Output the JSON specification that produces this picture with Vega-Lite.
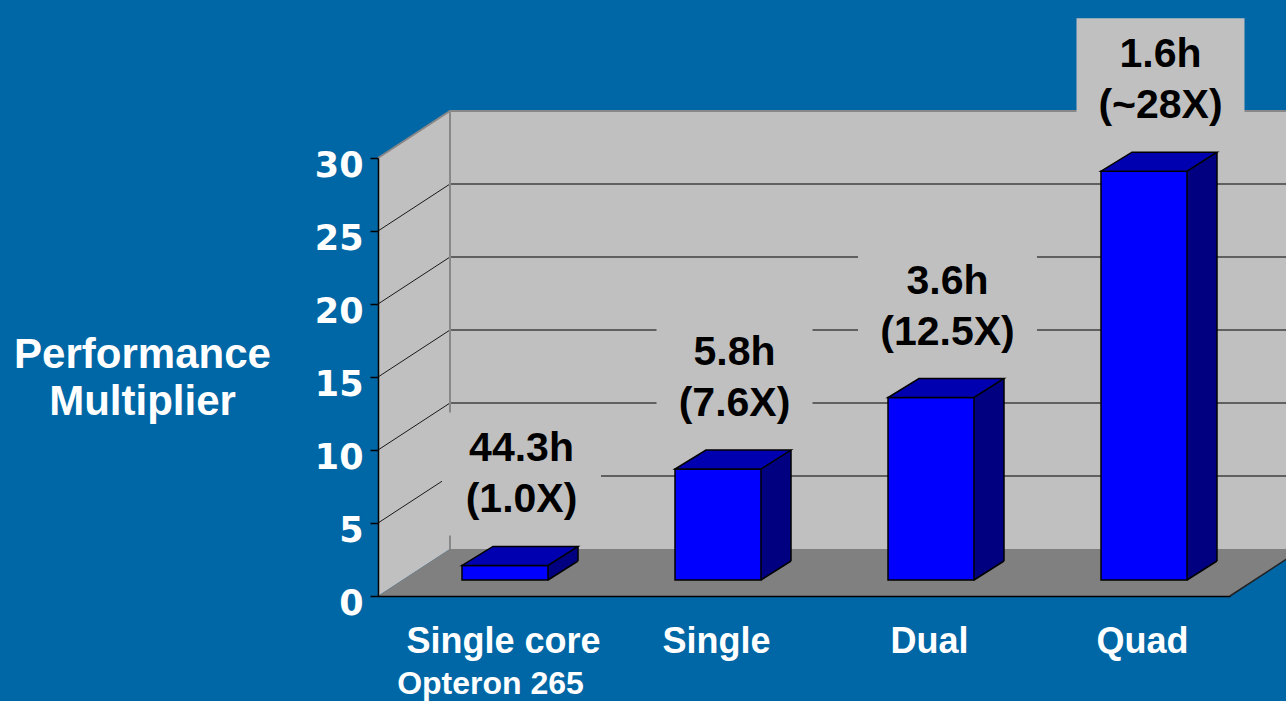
{
  "$schema": "https://vega.github.io/schema/vega-lite/v6.json",
  "width": 852,
  "height": 438,
  "padding": {"left": 378, "top": 158, "right": 56, "bottom": 105},
  "autosize": {"type": "none"},
  "background": "#0067A6",
  "config": {"view": {"stroke": null}},
  "datasets": {
    "bars": [
      {"category": "Single core", "multiplier": 1.0, "label": "44.3h\n(1.0X)"},
      {"category": "Single", "multiplier": 7.6, "label": "5.8h\n(7.6X)"},
      {"category": "Dual", "multiplier": 12.5, "label": "3.6h\n(12.5X)"},
      {"category": "Quad", "multiplier": 28, "label": "1.6h\n(~28X)"}
    ],
    "levels": [{"v": 5}, {"v": 10}, {"v": 15}, {"v": 20}, {"v": 25}],
    "frame": [{"part": "frame"}],
    "notes": [{"category": "Single core", "note": "Opteron 265"}]
  },
  "layer": [
    {
      "data": {"name": "bars"},
      "mark": {"type": "rect", "fill": "#C0C0C0", "xOffset": 72, "x2Offset": 72, "yOffset": -47, "y2Offset": -47},
      "encoding": {
        "x": {"field": "category", "type": "nominal", "scale": {"type": "band", "domain": ["Single core", "Single", "Dual", "Quad"], "paddingInner": 0, "paddingOuter": 0}},
        "y": {"datum": 0, "type": "quantitative", "scale": {"domain": [0, 30], "nice": false, "zero": true}},
        "y2": {"datum": 30}
      }
    },
    {
      "data": {"name": "frame"},
      "mark": {"type": "point", "shape": "M-106.5,0L-106.5,-438L-34.5,-485L-34.5,-47Z", "size": 4, "filled": true, "fill": "#C0C0C0", "opacity": 1},
      "encoding": {
        "x": {"datum": "Single core", "type": "nominal"},
        "y": {"datum": 0, "type": "quantitative"}
      }
    },
    {
      "data": {"name": "frame"},
      "mark": {"type": "point", "shape": "M-106.5,0L-34.5,-47L817.5,-47L745.5,0Z", "size": 4, "filled": true, "fill": "#808080", "opacity": 1},
      "encoding": {
        "x": {"datum": "Single core", "type": "nominal"},
        "y": {"datum": 0, "type": "quantitative"}
      }
    },
    {
      "data": {"name": "frame"},
      "mark": {"type": "point", "shape": "M745.5,0L817.5,-47", "size": 4, "filled": false, "stroke": "#222222", "strokeWidth": 1.5, "opacity": 1},
      "encoding": {
        "x": {"datum": "Single core", "type": "nominal"},
        "y": {"datum": 0, "type": "quantitative"}
      }
    },
    {
      "data": {"name": "levels"},
      "mark": {"type": "point", "shape": "M-34.5,-47L900,-47", "size": 4, "filled": false, "stroke": "#404040", "strokeWidth": 1.5, "opacity": 1},
      "encoding": {
        "x": {"datum": "Single core", "type": "nominal"},
        "y": {"field": "v", "type": "quantitative"}
      }
    },
    {
      "data": {"name": "levels"},
      "mark": {"type": "point", "shape": "M-106.5,0L-34.5,-47", "size": 4, "filled": false, "stroke": "#1a1a1a", "strokeWidth": 1, "opacity": 1},
      "encoding": {
        "x": {"datum": "Single core", "type": "nominal"},
        "y": {"field": "v", "type": "quantitative"}
      }
    },
    {
      "data": {"name": "frame"},
      "mark": {"type": "point", "shape": "M-106.5,-438L-34.5,-485L900,-485M-34.5,-485L-34.5,-47", "size": 4, "filled": false, "stroke": "#888888", "strokeWidth": 2, "opacity": 1},
      "encoding": {
        "x": {"datum": "Single core", "type": "nominal"},
        "y": {"datum": 0, "type": "quantitative"}
      }
    },
    {
      "data": {"name": "bars"},
      "mark": {"type": "point", "size": 4, "filled": true, "fill": "#C0C0C0", "opacity": 1, "xOffset": 37, "yOffset": -107},
      "encoding": {
        "x": {"field": "category", "type": "nominal"},
        "y": {"field": "multiplier", "type": "quantitative"},
        "shape": {
          "field": "category", "type": "nominal", "legend": null,
          "scale": {
            "domain": ["Single core", "Single", "Dual", "Quad"],
            "range": ["M-79.5,-62H79.5V61H-79.5Z", "M-78,-62H78V61H-78Z", "M-89.5,-62H89.5V61H-89.5Z", "M-84,-62H84V61H-84Z"]
          }
        }
      }
    },
    {
      "data": {"name": "bars"},
      "mark": {"type": "bar", "width": 30, "xOffset": 78.5, "yOffset": -35, "y2Offset": -16, "fill": "#000080"},
      "encoding": {
        "x": {"field": "category", "type": "nominal"},
        "y": {"field": "multiplier", "type": "quantitative"},
        "y2": {"datum": 0}
      }
    },
    {
      "data": {"name": "bars"},
      "mark": {"type": "point", "shape": "M63.5,-16L93.5,-35L93.5,-16Z", "size": 4, "filled": true, "fill": "#808080", "opacity": 1},
      "encoding": {
        "x": {"field": "category", "type": "nominal"},
        "y": {"datum": 0, "type": "quantitative"}
      }
    },
    {
      "data": {"name": "bars"},
      "mark": {"type": "point", "shape": "M63.5,-16L93.5,-35", "size": 4, "filled": false, "stroke": "#000000", "strokeWidth": 1.5, "opacity": 1},
      "encoding": {
        "x": {"field": "category", "type": "nominal"},
        "y": {"datum": 0, "type": "quantitative"}
      }
    },
    {
      "data": {"name": "bars"},
      "mark": {"type": "rule", "xOffset": 93.5, "yOffset": -35, "y2Offset": -35, "stroke": "#000000", "strokeWidth": 1.5},
      "encoding": {
        "x": {"field": "category", "type": "nominal"},
        "y": {"field": "multiplier", "type": "quantitative"},
        "y2": {"datum": 0}
      }
    },
    {
      "data": {"name": "bars"},
      "mark": {"type": "bar", "width": 86, "xOffset": 20.5, "yOffset": -16, "y2Offset": -16, "fill": "#0000FF", "stroke": "#000000", "strokeWidth": 1.5, "strokeJoin": "miter"},
      "encoding": {
        "x": {
          "field": "category", "type": "nominal",
          "axis": {
            "title": null, "domain": true, "domainColor": "#000000", "domainWidth": 1.5,
            "ticks": false, "tickSize": 0, "grid": false,
            "labelFont": "Liberation Sans", "labelFontWeight": "bold", "labelFontSize": 36,
            "labelColor": "#FFFFFF", "labelPadding": 28, "labelOffset": 19, "labelAngle": 0,
            "labelAlign": "center", "labelBaseline": "top",
            "labelLimit": 0, "labelOverlap": false, "labelFlush": false, "zindex": 1
          }
        },
        "y": {
          "field": "multiplier", "type": "quantitative",
          "axis": {
            "title": ["Performance", "Multiplier"], "titleAngle": 0, "titleX": -236, "titleY": 209,
            "titleAlign": "center", "titleBaseline": "alphabetic", "titleFont": "Liberation Sans",
            "titleFontWeight": "bold", "titleFontSize": 42, "titleColor": "#FFFFFF", "titleLineHeight": 47,
            "titleLimit": 1000,
            "values": [0, 5, 10, 15, 20, 25, 30],
            "domainColor": "#000000", "domainWidth": 1.5,
            "tickColor": "#000000", "tickSize": 8, "tickWidth": 1.5, "grid": false,
            "labelFont": "DejaVu Sans", "labelFontWeight": "bold", "labelFontSize": 35,
            "labelColor": "#FFFFFF", "labelPadding": 7, "labelOffset": 7, "labelLimit": 0,
            "labelAlign": "right", "labelBaseline": "middle",
            "labelOverlap": false, "labelFlush": false, "zindex": 1
          }
        },
        "y2": {"datum": 0}
      }
    },
    {
      "data": {"name": "bars"},
      "mark": {"type": "point", "shape": "M-22.5,-16L63.5,-16L93.5,-35L8.5,-35Z", "size": 4, "filled": true, "fill": "#0000B0", "stroke": "#000000", "strokeWidth": 1.5, "opacity": 1, "strokeJoin": "miter"},
      "encoding": {
        "x": {"field": "category", "type": "nominal"},
        "y": {"field": "multiplier", "type": "quantitative"}
      }
    },
    {
      "data": {"name": "bars"},
      "mark": {"type": "text", "lineBreak": "\n", "font": "Liberation Sans", "fontWeight": "bold", "fontSize": 41, "lineHeight": 51, "align": "center", "baseline": "middle", "color": "#000000", "xOffset": 37, "yOffset": -132},
      "encoding": {
        "x": {"field": "category", "type": "nominal"},
        "y": {"field": "multiplier", "type": "quantitative"},
        "text": {"field": "label"}
      }
    },
    {
      "data": {"name": "notes"},
      "mark": {"type": "text", "font": "Liberation Sans", "fontWeight": "bold", "fontSize": 32, "align": "center", "baseline": "middle", "color": "#FFFFFF", "xOffset": 6, "yOffset": 88},
      "encoding": {
        "x": {"field": "category", "type": "nominal"},
        "y": {"datum": 0, "type": "quantitative"},
        "text": {"field": "note"}
      }
    }
  ]
}
